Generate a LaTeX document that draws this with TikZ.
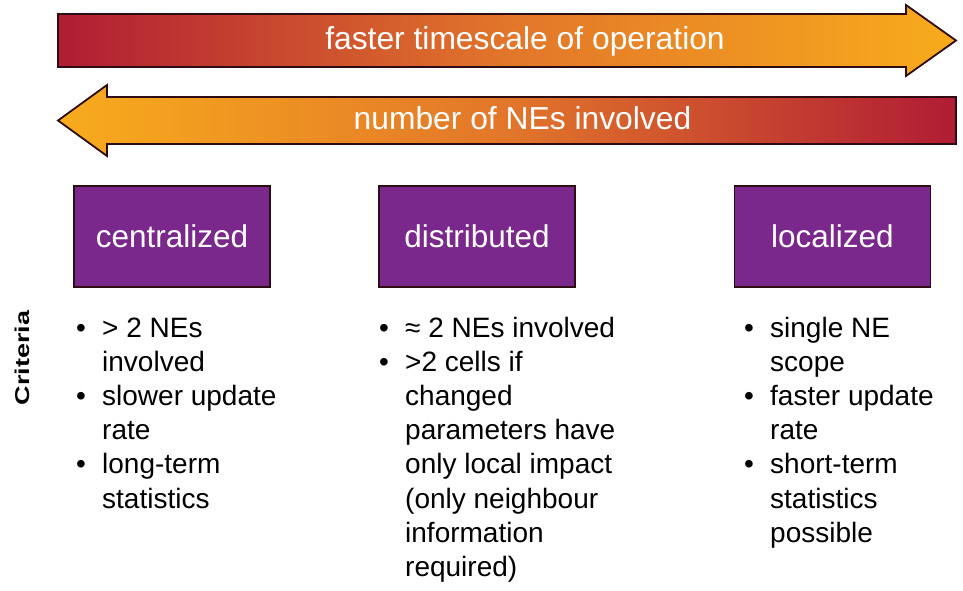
\documentclass[tikz,border=0pt]{standalone}
\usepackage{fontspec}
\setmainfont{Liberation Sans}
\definecolor{critred}{RGB}{176,28,52}
\definecolor{critorange}{RGB}{226,118,42}
\definecolor{crityellow}{RGB}{248,172,28}
\definecolor{critpurple}{RGB}{122,40,140}
\definecolor{critedge}{RGB}{45,12,20}
\newcommand{\critbul}{\makebox[26pt][l]{\textbullet}}
\newcommand{\critind}{\hspace*{26pt}}

\begin{document}
\begin{tikzpicture}[x=1pt, y=-1pt,
  band/.style={draw=critedge, line width=1.8pt, line join=miter},
  bandtext/.style={font=\fontsize{31.8}{36}\selectfont, text=white, anchor=base, inner sep=0pt},
  scheme/.style={draw=critedge, line width=1.4pt, fill=critpurple, minimum width=196pt,
                 minimum height=101pt, font=\fontsize{31.5}{36}\selectfont, text=white},
  crit/.style={font=\fontsize{28}{34.2}\selectfont, align=left, anchor=base west, inner sep=0pt}
]
  \useasboundingbox (0,0) rectangle (963,591);

  % Arrows
  \path[band, left color=critred, right color=crityellow, middle color=critorange]
    (58,14) -- (906,14) -- (906,5) -- (956,40.5) -- (906,76) -- (906,67) -- (58,67) -- cycle;
  \path[band, left color=crityellow, right color=critred, middle color=critorange]
    (956,97) -- (107,97) -- (107,85) -- (58,120.5) -- (107,156) -- (107,144) -- (956,144) -- cycle;
  \node[bandtext] (speed) at (525,49.5) {faster timescale of operation};
  \node[bandtext] (count) at (522.5,130) {number of NEs involved};

  % Schemes
  \node[scheme] (cent) at (172,236.5) {centralized};
  \node[scheme] (dist) at (477,236.5) {distributed};
  \node[scheme] (loc) at (832.5,236.5) {localized};

  % Criteria (base anchor = last line, first line sits at 337)
  \node[font=\bfseries\fontsize{20}{24}\selectfont, rotate=90, anchor=base, inner sep=0pt]
    (crit) at (29,358) {\scalebox{1.35}[1]{Criteria}};
  \node[crit] (centcrit) at (76,{337+5*34.2}) {\critbul > 2 NEs\\ \critind involved\\
    \critbul slower update\\ \critind rate\\ \critbul long-term\\ \critind statistics};
  \node[crit] (distcrit) at (379,{337+7*34.2}) {\critbul ≈ 2 NEs involved\\ \critbul >2 cells if\\
    \critind changed\\ \critind parameters have\\ \critind only local impact\\
    \critind (only neighbour\\ \critind information\\ \critind required)};
  \node[crit] (loccrit) at (744,{337+6*34.2}) {\critbul single NE\\ \critind scope\\
    \critbul faster update\\ \critind rate\\ \critbul short-term\\ \critind statistics\\
    \critind possible};
\end{tikzpicture}
\end{document}
